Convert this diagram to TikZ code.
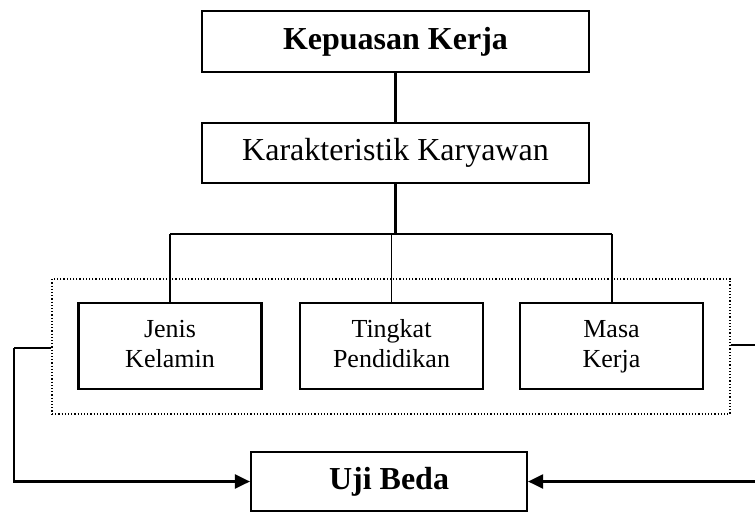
\documentclass[tikz,border=0pt]{standalone}
\usepackage{fontspec}
\setmainfont{Liberation Serif}
\usetikzlibrary{arrows.meta}
\begin{document}
\begin{tikzpicture}[x=1pt,y=-1pt,
  mainbox/.style={draw,line width=2.2pt,inner sep=0pt,align=center},
  subbox/.style={draw,line width=2.2pt,inner sep=0pt,align=center,minimum width=183pt,minimum height=86pt,font=\fontsize{26}{30}\selectfont},
  thickline/.style={line width=2.2pt},
  thinline/.style={line width=1.4pt},
  groupbox/.style={draw,dotted,line width=1.2pt,minimum width=678pt,minimum height=135pt,inner sep=0pt},
  arrowline/.style={line width=2.2pt,-{Triangle[length=15pt,width=14pt]}}
]
\useasboundingbox (0,0) rectangle (755,512);
\node[mainbox,minimum width=387pt,minimum height=61pt,font=\fontsize{32}{38}\selectfont\bfseries] (top) at (395.5,41.5) {Kepuasan Kerja};
\node[mainbox,minimum width=387pt,minimum height=60pt,font=\fontsize{32}{38}\selectfont] (kar) at (395.5,153) {Karakteristik Karyawan};
\node[groupbox] (grp) at (391,346.5) {};
\node[subbox] (jenis) at (170,346) {\strut Jenis\\\strut Kelamin};
\node[subbox] (ting) at (391.5,346) {\strut Tingkat\\\strut Pendidikan};
\node[subbox] (masa) at (611.5,346) {\strut Masa\\\strut Kerja};
\node[mainbox,minimum width=276pt,minimum height=59pt,font=\fontsize{32}{38}\selectfont\bfseries] (uji) at (389,481.5) {Uji Beda};
\coordinate (busL) at (170,234);
\coordinate (busR) at (612,234);
\coordinate (busM) at (395.5,234);
\coordinate (lcorner1) at (14,348);
\coordinate (lcorner2) at (14,481.5);
\coordinate (rend1) at (756,345);
\coordinate (rend2) at (756,481.5);
\draw[thickline] (top) -- (kar);
\draw[thickline] (kar) -- (busM);
\draw[thickline] (busL) -- (busR);
\draw[thinline] (busL) -- (jenis.north);
\draw[thinline] (busM -| ting.north) -- (ting.north);
\draw[thinline] (busR) -- (busR |- masa.north);
\draw[thickline] (grp.west |- lcorner1) -- (lcorner1);
\draw[arrowline] (lcorner1) -- (lcorner2) -- (uji.west);
\draw[thickline] (grp.east |- rend1) -- (rend1);
\draw[arrowline] (rend2) -- (uji.east);
\end{tikzpicture}
\end{document}
